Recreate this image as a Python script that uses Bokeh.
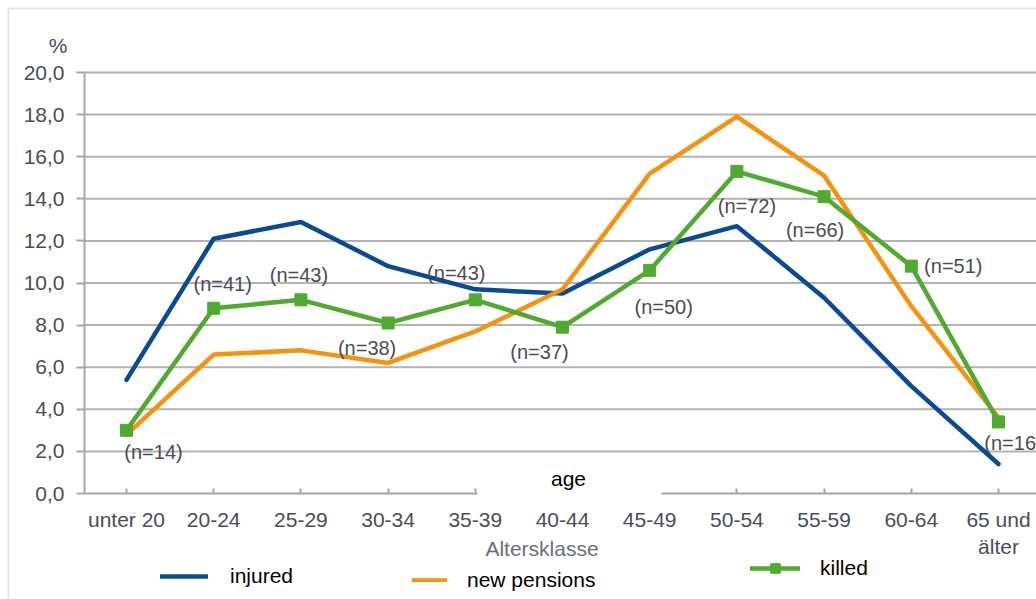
import numpy as np
from bokeh.plotting import figure
from bokeh.models import (ColumnDataSource, FixedTicker, Label, BoxAnnotation,
                          Legend, LegendItem, Range1d)
from bokeh.embed import file_html
from bokeh.resources import INLINE
from bokeh.core.properties import value

# ---------------- data ----------------
categories = ["unter 20", "20-24", "25-29", "30-34", "35-39", "40-44",
              "45-49", "50-54", "55-59", "60-64", "65 und\nälter"]
injured = [5.4, 12.1, 12.9, 10.8, 9.7, 9.5, 11.6, 12.7, 9.3, 5.1, 1.4]
new_pensions = [2.8, 6.6, 6.8, 6.2, 7.7, 9.7, 15.2, 17.9, 15.1, 8.9, 3.6]
killed = [3.0, 8.8, 9.2, 8.1, 9.2, 7.9, 10.6, 15.3, 14.1, 10.8, 3.4]
n_labels = ["(n=14)", "(n=41)", "(n=43)", "(n=38)", "(n=43)", "(n=37)",
            "(n=50)", "(n=72)", "(n=66)", "(n=51)", "(n=16)"]
y_ticks = [0, 2, 4, 6, 8, 10, 12, 14, 16, 18, 20]
y_tick_labels = ["0,0", "2,0", "4,0", "6,0", "8,0", "10,0", "12,0",
                 "14,0", "16,0", "18,0", "20,0"]

# label offsets (screen px) relative to the killed points
label_dx = [27, 9, -2, -21, -19, -23, 14, 10, -9, 42, 15]
label_dy = [22, -24, -25, 25, -27, 25, 37, 35, 33, 0, 21]

# ---------------- layout (pixels) ----------------
W, H = 1036, 599
AX_LEFT = 84          # y axis position (px)
AX_BOTTOM = 493       # x axis position (px)
AX_TOP = 72           # y = 20 (px)
CAT_STEP = 87.2       # px per category
FIRST_CAT = 126       # px of first category

PX_PER_Y = (AX_BOTTOM - AX_TOP) / 20.0
x0_data = 0.5 - (FIRST_CAT - AX_LEFT) / CAT_STEP   # data x at the y axis


def dx(px):
    return x0_data + (px - AX_LEFT) / CAT_STEP


def dy(py):
    return (AX_BOTTOM - py) / PX_PER_Y


FONT = "Liberation Sans"
BLUE = "#0a4a94"
ORANGE = "#f5920f"
GREEN = "#4faa2f"
GRID = "#b2b2b2"
AXIS = "#a6a6a6"
TXT = "#4b4b5c"

xpos = np.arange(len(categories)) + 0.5

p = figure(width=W, height=H, output_backend="svg", toolbar_location=None,
           x_range=Range1d(dx(0), dx(W)), y_range=Range1d(dy(H), dy(0)),
           min_border=0, background_fill_color="white",
           border_fill_color="white")
p.outline_line_color = None

# axes fixed at the plot origin
p.xaxis.fixed_location = 0
p.xaxis.bounds = (x0_data, dx(W))
p.xaxis.ticker = FixedTicker(ticks=list(xpos))
p.xaxis.major_label_overrides = {float(x): c for x, c in zip(xpos, categories)}
p.xaxis.major_tick_in = 5
p.xaxis.major_tick_out = 0
p.xaxis.minor_tick_line_color = None
p.xaxis.major_label_standoff = 14

p.yaxis.fixed_location = x0_data
p.yaxis.bounds = (0, 20)
p.yaxis.ticker = FixedTicker(ticks=y_ticks)
p.yaxis.major_label_overrides = {t: l for t, l in zip(y_ticks, y_tick_labels)}
p.yaxis.major_tick_in = 0
p.yaxis.major_tick_out = 8
p.yaxis.minor_tick_line_color = None
p.yaxis.major_label_standoff = 12

for ax in (p.xaxis[0], p.yaxis[0]):
    ax.axis_line_color = AXIS
    ax.axis_line_width = 2
    ax.major_tick_line_color = AXIS
    ax.major_tick_line_width = 2
    ax.major_label_text_font = FONT
    ax.major_label_text_font_size = "21px"
    ax.major_label_text_color = TXT

p.xgrid.visible = False
p.ygrid.visible = False

# horizontal grid lines from the y ticks, starting at the y axis
grid_src = ColumnDataSource(dict(y=y_ticks[1:]))
p.segment(x0=x0_data, x1=dx(W), y0="y", y1="y", source=grid_src,
          line_color=GRID, line_width=2)

src = ColumnDataSource(dict(x=xpos, injured=injured, pens=new_pensions,
                            killed=killed, lab=n_labels, dx=label_dx, dy=label_dy))

r_inj = p.line("x", "injured", source=src, line_color=BLUE, line_width=4.5,
               line_cap="round", line_join="round")
r_pen = p.line("x", "pens", source=src, line_color=ORANGE, line_width=4.5,
               line_cap="round", line_join="round")
r_kil = p.line("x", "killed", source=src, line_color=GREEN, line_width=4.5,
               line_cap="round", line_join="round")
r_kil_m = p.scatter("x", "killed", source=src, marker="square", size=12,
                    fill_color=GREEN, line_color=GREEN)

p.text("x", "killed", text="lab", source=src, x_offset="dx", y_offset="dy",
       text_align="center", text_baseline="middle",
       text_font=value(FONT), text_font_size="20px", text_color=TXT)

# outer chart border (left and top)
p.add_layout(BoxAnnotation(left=dx(8), top=dy(8), right=dx(W + 50),
                           bottom=dy(H + 50), fill_alpha=0,
                           line_color="#a8a8a8", line_width=2))

# white patch with "age"
p.add_layout(BoxAnnotation(left=dx(477), right=dx(661), bottom=dy(501),
                           top=dy(453), fill_color="white", fill_alpha=1.0,
                           line_alpha=0, level="overlay"))
p.add_layout(Label(x=dx(568), y=dy(478), text="age", text_align="center",
                   text_baseline="middle", text_font=FONT,
                   text_font_size="21px", text_color="black", level="overlay"))

# "%" and x title
p.add_layout(Label(x=dx(57.5), y=dy(45), text="%", text_align="center",
                   text_baseline="middle", text_font=FONT,
                   text_font_size="21px", text_color=TXT))
p.add_layout(Label(x=dx(541.5), y=dy(548), text="Altersklasse",
                   text_align="center", text_baseline="middle",
                   text_font=FONT, text_font_size="21px",
                   text_color="#6a6e80"))

LABEL_H = 24


# legends: glyph box at the top of the row, label centred in the row
def add_legend(label, renderers, glyph_w, left_px, glyph_center_px,
               text_drop_px, standoff):
    gh = LABEL_H - 2 * text_drop_px
    top = glyph_center_px - gh / 2.0
    bottom = top + LABEL_H
    lg = Legend(items=[LegendItem(label=label, renderers=renderers)],
                location=(left_px, H - bottom),
                orientation="horizontal",
                glyph_width=glyph_w, glyph_height=gh, label_height=LABEL_H,
                label_standoff=standoff, padding=0, margin=0, spacing=0,
                border_line_alpha=0, background_fill_alpha=0,
                label_text_font=FONT, label_text_font_size="21px",
                label_text_color="black")
    p.add_layout(lg, "center")


add_legend("injured", [r_inj], 48, 160, 571, 5, 22)
add_legend("new pensions", [r_pen], 35, 412, 570, 10, 20)
add_legend("killed", [r_kil, r_kil_m], 50, 750, 568, 0, 20)

open("out.html", "w").write(file_html(p, INLINE))
